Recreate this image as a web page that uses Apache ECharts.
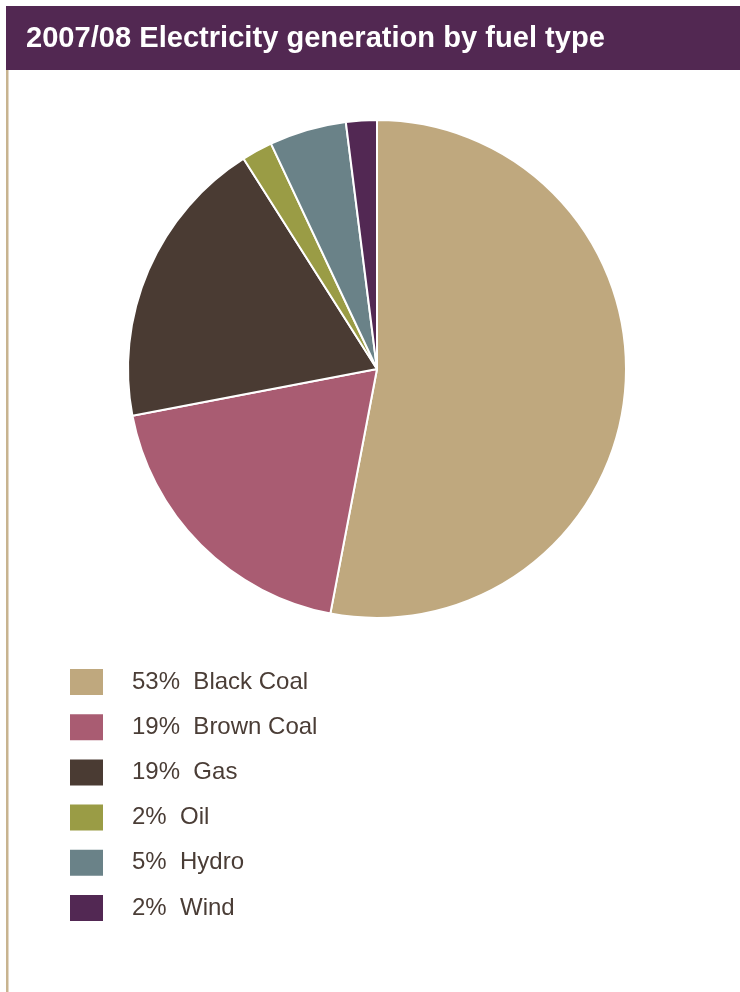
<!DOCTYPE html>
<html>
<head>
<meta charset="utf-8">
<script src="https://cdn.jsdelivr.net/npm/echarts@6/dist/echarts.min.js"></script>
<style>
html,body{margin:0;padding:0;background:#fff;}
#chart{width:740px;height:992px;}
</style>
</head>
<body>
<div id="chart"></div>
<script>
var titleText = '2007/08 Electricity generation by fuel type';
var categories = ['Black Coal', 'Brown Coal', 'Gas', 'Oil', 'Hydro', 'Wind'];
var shares = [53, 19, 19, 2, 5, 2];
var colors = ['#bfa87e', '#a95c72', '#4a3b33', '#9a9c45', '#6a8288', '#522853'];

var chart = echarts.init(document.getElementById('chart'), null, {renderer: 'canvas'});
var data = categories.map(function (c, i) {
  return {name: c, value: shares[i], itemStyle: {color: colors[i]}};
});
var shareByName = {};
categories.forEach(function (c, i) { shareByName[c] = shares[i]; });

chart.setOption({
  animation: false,
  backgroundColor: '#ffffff',
  graphic: [
    {type: 'rect', shape: {x: 6, y: 6, width: 734, height: 64}, style: {fill: '#522852'}, silent: true},
    {type: 'rect', shape: {x: 6, y: 70, width: 2.5, height: 922}, style: {fill: '#c8b490'}, silent: true},
    {type: 'text', x: 26, y: 38.5, style: {
      text: titleText, fill: '#ffffff',
      font: 'bold 29.1px "Liberation Sans", Arial, sans-serif',
      textVerticalAlign: 'middle', textAlign: 'left'
    }, silent: true}
  ],
  legend: {
    orient: 'vertical',
    left: 70,
    top: 669,
    padding: 0,
    icon: 'rect',
    itemWidth: 33,
    itemHeight: 26,
    itemGap: 19.2,
    selectedMode: false,
    itemStyle: {borderWidth: 0},
    data: categories,
    formatter: function (name) { return shareByName[name] + '%  ' + name; },
    textStyle: {
      color: '#4a3d36',
      fontSize: 24,
      fontFamily: '"Liberation Sans", Arial, sans-serif',
      lineHeight: 26,
      padding: [0, 0, 0, 24]
    }
  },
  series: [{
    type: 'pie',
    center: [377, 369],
    radius: [0, 249],
    startAngle: 90,
    clockwise: true,
    label: {show: false},
    labelLine: {show: false},
    emphasis: {disabled: true},
    itemStyle: {borderColor: '#ffffff', borderWidth: 2},
    data: data
  }]
});
</script>
</body>
</html>
